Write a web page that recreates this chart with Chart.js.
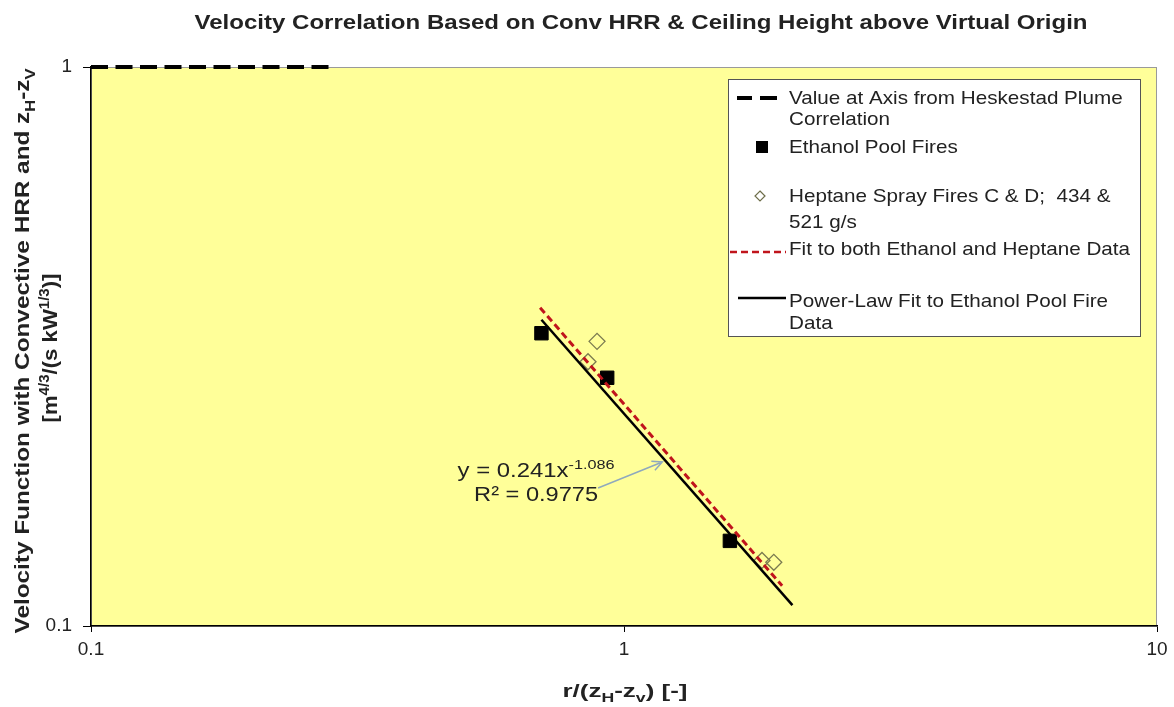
<!DOCTYPE html>
<html>
<head>
<meta charset="utf-8">
<title>Velocity Correlation</title>
<script src="https://cdn.jsdelivr.net/npm/chart.js@4.4.1/dist/chart.umd.min.js"></script>
<style>
  html, body { margin: 0; padding: 0; background: #fff; }
  #wrap { width: 1174px; height: 707px; position: relative; }
</style>
</head>
<body>
<div id="wrap"><canvas id="velChart"></canvas></div>
<script>
/* ---- data ---- */
const xTicks = [0.1, 1, 10];
const yTicks = [0.1, 1];

const heskestadX = [0.1, 0.283];
const heskestadY = [1, 1];

const ethanolX = [0.70, 0.93, 1.58];
const ethanolY = [0.334, 0.278, 0.142];

const heptaneX = [0.856, 0.89, 1.815, 1.91];
const heptaneY = [0.297, 0.323, 0.131, 0.130];

const fitBothX = [0.696, 1.98];
const fitBothY = [0.371, 0.118];

const fitEthanolX = [0.70, 2.07];
const fitEthanolY = [0.353, 0.109];

// equation label + arrow (data coords)
const arrowFrom = { x: 0.894, y: 0.1766 };
const arrowTo = { x: 1.18, y: 0.1965 };
const eqAnchor = { x: 0.684, y1: 0.1847, y2: 0.1674 };

const pts = (xs, ys) => xs.map((x, i) => ({ x, y: ys[i] }));

/* ---- rich text helpers (sub / superscripts, fitted width) ---- */
const FONT = 'Arial, "Liberation Sans", sans-serif';
const fontOf = (size, weight) => `${weight} ${size}px ${FONT}`;

function runsWidth(ctx, runs, size, weight) {
  let w = 0;
  runs.forEach(r => {
    ctx.font = fontOf(r.s ? size * 0.68 : size, weight);
    w += ctx.measureText(r.t).width;
  });
  return w;
}

function drawRuns(ctx, runs, x, y, o) {
  const size = o.size, weight = o.weight || 'normal';
  const raw = runsWidth(ctx, runs, size, weight);
  const sx = o.width ? o.width / raw : (o.sx || 1);
  const w = raw * sx;
  const left = o.align === 'center' ? x - w / 2 : o.align === 'right' ? x - w : x;
  ctx.save();
  ctx.fillStyle = o.color || '#222';
  ctx.textAlign = 'left';
  ctx.textBaseline = 'alphabetic';
  ctx.translate(left, y);
  ctx.scale(sx, 1);
  let px = 0;
  runs.forEach(r => {
    const fs = r.s ? size * 0.68 : size;
    ctx.font = fontOf(fs, weight);
    const dy = r.s === 'sub' ? size * 0.28 : r.s === 'sup' ? -size * 0.4 : 0;
    ctx.fillText(r.t, px, dy);
    px += ctx.measureText(r.t).width;
  });
  ctx.restore();
  return sx;
}

/* ---- decorations: background, titles, legend, equation ---- */
const decorPlugin = {
  id: 'decor',
  beforeDraw(chart) {
    const { ctx, chartArea: a } = chart;
    ctx.save();
    ctx.fillStyle = '#fff';
    ctx.fillRect(0, 0, chart.width, chart.height);
    ctx.fillStyle = '#ffff99';
    ctx.fillRect(a.left, a.top, a.right - a.left, a.bottom - a.top);
    ctx.strokeStyle = '#9a9a9a';
    ctx.lineWidth = 1;
    ctx.strokeRect(a.left + 0.5, a.top + 0.5, a.right - a.left - 1, a.bottom - a.top);
    ctx.restore();
  },
  afterDatasetsDraw(chart) {
    const { ctx, scales: { x, y } } = chart;
    // arrow
    const x0 = x.getPixelForValue(arrowFrom.x), y0 = y.getPixelForValue(arrowFrom.y);
    const x1 = x.getPixelForValue(arrowTo.x), y1 = y.getPixelForValue(arrowTo.y);
    const ang = Math.atan2(y1 - y0, x1 - x0);
    ctx.save();
    ctx.strokeStyle = '#8fa9bd';
    ctx.lineWidth = 1.5;
    ctx.beginPath();
    ctx.moveTo(x0, y0); ctx.lineTo(x1, y1);
    ctx.moveTo(x1 - 11 * Math.cos(ang - 0.45), y1 - 11 * Math.sin(ang - 0.45));
    ctx.lineTo(x1, y1);
    ctx.lineTo(x1 - 11 * Math.cos(ang + 0.45), y1 - 11 * Math.sin(ang + 0.45));
    ctx.stroke();
    ctx.restore();

    const ex = x.getPixelForValue(eqAnchor.x);
    drawRuns(ctx, [{ t: 'y = 0.241x' }, { t: '-1.086', s: 'sup' }], ex, y.getPixelForValue(eqAnchor.y1),
      { size: 20, align: 'center', width: 157 });
    drawRuns(ctx, [{ t: 'R² = 0.9775' }], ex, y.getPixelForValue(eqAnchor.y2),
      { size: 20, align: 'center', width: 124 });
  },
  afterDraw(chart) {
    const { ctx } = chart;

    // chart title
    drawRuns(ctx, [{ t: 'Velocity Correlation Based on Conv HRR & Ceiling Height above Virtual Origin' }],
      641, 29, { size: 19.5, weight: 'bold', align: 'center', width: 893 });

    // x axis title
    drawRuns(ctx, [{ t: 'r/(z' }, { t: 'H', s: 'sub' }, { t: '-z' }, { t: 'v', s: 'sub' }, { t: ') [-]' }],
      625, 697, { size: 19, weight: 'bold', align: 'center', width: 125 });

    // y axis title (two rotated lines)
    ctx.save();
    ctx.translate(29, 351);
    ctx.rotate(-Math.PI / 2);
    drawRuns(ctx, [{ t: 'Velocity Function with Convective HRR and z' }, { t: 'H', s: 'sub' },
      { t: '-z' }, { t: 'V', s: 'sub' }], 0, 0, { size: 21, weight: 'bold', align: 'center', width: 565 });
    ctx.restore();
    ctx.save();
    ctx.translate(57, 348);
    ctx.rotate(-Math.PI / 2);
    drawRuns(ctx, [{ t: '[m' }, { t: '4/3', s: 'sup' }, { t: '/(s kW' }, { t: '1/3', s: 'sup' }, { t: ')]' }],
      0, 0, { size: 21, weight: 'bold', align: 'center', width: 149 });
    ctx.restore();

    // legend box
    ctx.save();
    ctx.fillStyle = '#fff';
    ctx.fillRect(728, 79, 413, 258);
    ctx.strokeStyle = '#555';
    ctx.lineWidth = 1;
    ctx.strokeRect(728.5, 79.5, 412, 257);

    // symbols
    ctx.strokeStyle = '#000';
    ctx.lineWidth = 4;
    ctx.beginPath();
    ctx.moveTo(737, 98); ctx.lineTo(752, 98);
    ctx.moveTo(760, 98); ctx.lineTo(777, 98);
    ctx.stroke();

    ctx.fillStyle = '#000';
    ctx.fillRect(756, 141, 12, 12);

    ctx.strokeStyle = '#6e6e4a';
    ctx.lineWidth = 1.2;
    ctx.beginPath();
    ctx.moveTo(760, 191); ctx.lineTo(765, 196); ctx.lineTo(760, 201); ctx.lineTo(755, 196); ctx.closePath();
    ctx.stroke();

    ctx.strokeStyle = '#c0141c';
    ctx.lineWidth = 2.5;
    ctx.setLineDash([7, 4]);
    ctx.beginPath(); ctx.moveTo(730, 252); ctx.lineTo(786, 252); ctx.stroke();
    ctx.setLineDash([]);

    ctx.strokeStyle = '#000';
    ctx.lineWidth = 2.5;
    ctx.beginPath(); ctx.moveTo(738, 298); ctx.lineTo(786, 298); ctx.stroke();
    ctx.restore();

    // legend text, stretched like the reference
    const lx = 789;
    const sx = drawRuns(ctx, [{ t: 'Fit to both Ethanol and Heptane Data' }], lx, 255, { size: 19, width: 341 });
    const lines = [
      ['Value at Axis from Heskestad Plume', 104],
      ['Correlation', 125],
      ['Ethanol Pool Fires', 153],
      ['Heptane Spray Fires C & D;  434 &', 202],
      ['521 g/s', 228],
      ['Power-Law Fit to Ethanol Pool Fire', 307],
      ['Data', 329]
    ];
    lines.forEach(([t, yy]) => drawRuns(ctx, [{ t }], lx, yy, { size: 19, sx }));
  }
};

/* ---- chart ---- */
const logAxis = (ticks, extra, tickLen, pad) => Object.assign({
  type: 'logarithmic',
  min: ticks[0],
  max: ticks[ticks.length - 1],
  afterBuildTicks: s => { s.ticks = ticks.map(v => ({ value: v })); },
  ticks: {
    autoSkip: false,
    maxRotation: 0,
    padding: pad,
    color: '#222',
    font: { family: FONT, size: 19 },
    callback: v => String(v)
  },
  grid: { display: true, drawOnChartArea: false, drawTicks: true, tickLength: tickLen, color: '#000', lineWidth: 1 },
  border: { display: true, color: '#000', width: 1.5 }
}, extra);

new Chart(document.getElementById('velChart'), {
  type: 'scatter',
  data: {
    datasets: [
      {
        label: 'Value at Axis from Heskestad Plume Correlation',
        type: 'line',
        data: pts(heskestadX, heskestadY),
        borderColor: '#000',
        borderWidth: 4,
        borderDash: [17, 7.5],
        pointRadius: 0,
        clip: false
      },
      {
        label: 'Fit to both Ethanol and Heptane Data',
        type: 'line',
        data: pts(fitBothX, fitBothY),
        borderColor: '#c0141c',
        borderWidth: 3,
        borderDash: [7, 4],
        pointRadius: 0
      },
      {
        label: 'Power-Law Fit to Ethanol Pool Fire Data',
        type: 'line',
        data: pts(fitEthanolX, fitEthanolY),
        borderColor: '#000',
        borderWidth: 2.5,
        pointRadius: 0
      },
      {
        label: 'Heptane Spray Fires C & D;  434 & 521 g/s',
        data: pts(heptaneX, heptaneY),
        pointStyle: 'rectRot',
        pointRadius: 8,
        backgroundColor: 'rgba(0,0,0,0)',
        borderColor: '#7a7a50',
        borderWidth: 1.3
      },
      {
        label: 'Ethanol Pool Fires',
        data: pts(ethanolX, ethanolY),
        pointStyle: 'rect',
        pointRadius: 9.5,
        backgroundColor: '#000',
        borderColor: '#000',
        borderWidth: 1
      }
    ]
  },
  options: {
    responsive: true,
    maintainAspectRatio: false,
    animation: false,
    devicePixelRatio: 1,
    layout: { padding: { left: 0, right: 17, top: 67, bottom: 0 } },
    plugins: { legend: { display: false }, title: { display: false }, tooltip: { enabled: false } },
    scales: {
      x: logAxis(xTicks, {
        position: 'bottom',
        afterFit: s => { s.height = 81; }
      }, 6, 6),
      y: logAxis(yTicks, {
        position: 'left',
        afterFit: s => { s.width = 91; }
      }, 8, 11)
    }
  },
  plugins: [decorPlugin]
});
</script>
</body>
</html>
